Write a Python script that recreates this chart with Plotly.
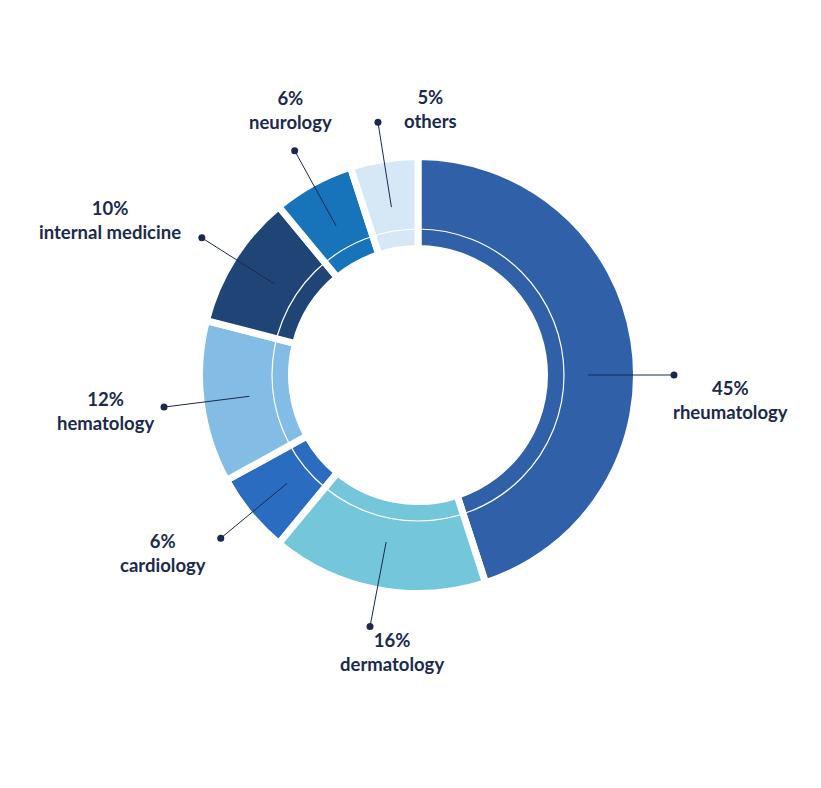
import numpy as np
import plotly.graph_objects as go

# share of cases per specialty, clockwise from 12 o'clock
specialties = ["rheumatology", "dermatology", "cardiology", "hematology",
               "internal medicine", "neurology", "others"]
shares = [45, 16, 6, 12, 10, 6, 5]
colors = ["#3060a8", "#74c6da", "#2a6dc0", "#83bce4",
          "#1f4577", "#1874ba", "#d6e7f6"]

W, H = 821, 788
CX, CY = 410, 367          # pie centre, pixels from top-left of the figure
R_OUT = 218.5
R_HOLE = 126.5
R_RING = 146
R_TICK0 = 170
R_DOT = 256
R_TEXT = 264
INK = "#1b2a4c"

# hand placement of the callouts: (angle offset in deg, xshift, yshift)
LABEL_TWEAKS = {
    "rheumatology": (9, -11, -25),
    "dermatology": (0, 23, 7),
    "cardiology": (0, -7, 15),
    "hematology": (0, 0, -3),
    "internal medicine": (0, -12, -11),
    "neurology": (0, 0, 9),
    "others": (0, 54, -20),
}

fig = go.Figure()

fig.add_trace(go.Pie(
    labels=specialties,
    values=shares,
    sort=False,
    direction="clockwise",
    rotation=0,
    hole=R_HOLE / R_OUT,
    marker=dict(colors=colors, line=dict(color="white", width=7)),
    textinfo="none",
    hoverinfo="label+percent",
    showlegend=False,
    domain=dict(x=[(CX - R_OUT) / W, (CX + R_OUT) / W],
                y=[(H - CY - R_OUT) / H, (H - CY + R_OUT) / H]),
))

# label angles from the data (clockwise from top)
vals = np.array(shares, dtype=float)
mid = (np.cumsum(vals) - vals / 2) / vals.sum() * 360
mid = mid + np.array([LABEL_TWEAKS[s][0] for s in specialties])
ux, uy = np.sin(np.radians(mid)), np.cos(np.radians(mid))

shapes = []
annotations = []
for name, share, dx, dy in zip(specialties, shares, ux, uy):
    shapes.append(dict(type="line", xref="x", yref="y", layer="above",
                       x0=R_TICK0 * dx, y0=R_TICK0 * dy,
                       x1=R_DOT * dx, y1=R_DOT * dy,
                       line=dict(color=INK, width=1)))
    xa = "left" if dx > 0.5 else ("right" if dx < -0.5 else "center")
    ya = "bottom" if dy > 0.5 else ("top" if dy < -0.5 else "middle")
    _, xs, ys = LABEL_TWEAKS[name]
    annotations.append(dict(
        x=R_TEXT * dx, y=R_TEXT * dy, xref="x", yref="y",
        text=f"<b>{share}%<br>{name}</b>", showarrow=False,
        xanchor=xa, yanchor=ya, align="center", xshift=xs, yshift=ys,
        font=dict(family="Lato", size=18.5, color=INK),
    ))

# thin white ring inside the donut
shapes.append(dict(type="circle", xref="x", yref="y", layer="above",
                   x0=-R_RING, y0=-R_RING, x1=R_RING, y1=R_RING,
                   line=dict(color="white", width=1.2)))

fig.add_trace(go.Scatter(
    x=R_DOT * ux, y=R_DOT * uy, mode="markers",
    marker=dict(size=7, color=INK), hoverinfo="skip", showlegend=False,
))

fig.update_layout(
    width=W, height=H,
    margin=dict(l=0, r=0, t=0, b=0),
    paper_bgcolor="white",
    plot_bgcolor="white",
    xaxis=dict(range=[-CX, W - CX], visible=False, fixedrange=True),
    yaxis=dict(range=[CY - H, CY], visible=False, fixedrange=True),
    shapes=shapes,
    annotations=annotations,
)

fig.write_html("out.html")
